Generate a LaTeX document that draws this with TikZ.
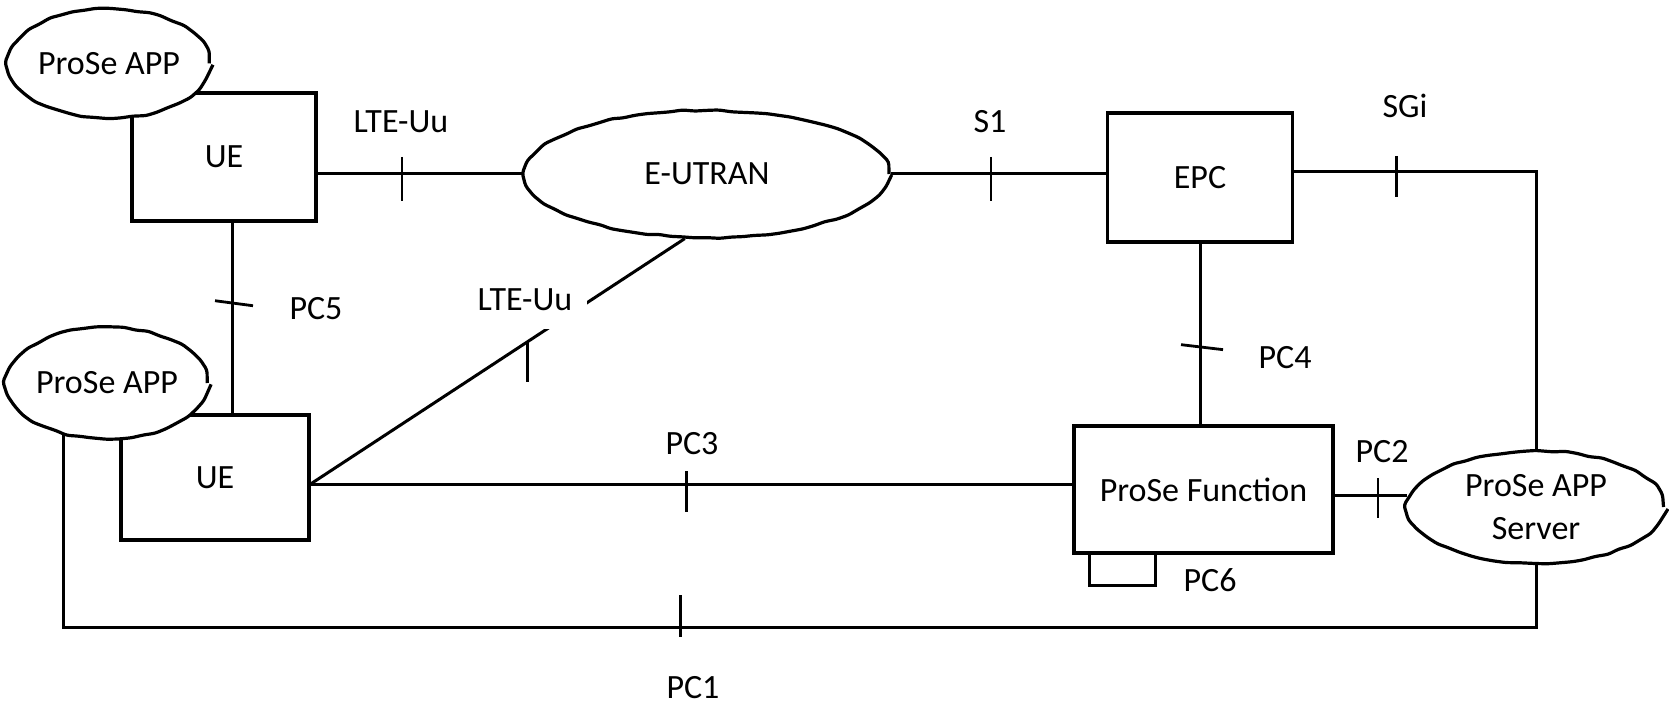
\documentclass[tikz,border=0pt]{standalone}
\usepackage{fontspec}
\setmainfont{Carlito}
\usetikzlibrary{shapes.geometric,decorations.pathmorphing,calc}
\begin{document}
\begin{tikzpicture}[x=0.5pt,y=-0.5pt,
  every node/.style={font=\fontsize{17pt}{21.5pt}\selectfont},
  box/.style={draw,line width=1.6pt,fill=white,inner sep=0pt},
  cloudn/.style={ellipse,draw,line width=1.6pt,fill=white,inner sep=0pt,align=center,
    decorate,decoration={random steps,segment length=6pt,amplitude=0.5pt},rounded corners=1.5pt},
  link/.style={line width=1.5pt},
  tickl/.style={line width=1.4pt},
  lbl/.style={inner sep=0pt}]
\pgfmathsetseed{5}
\fill[white] (0,0) rectangle (1669,705);
\useasboundingbox (0,0) rectangle (1669,705);

% boxes
\node[box,minimum width=92pt,minimum height=64pt] (UE1) at (224,157) {UE};
\node[box,minimum width=94pt,minimum height=62.5pt] (UE2) at (215,477.5) {UE};
\node[box,minimum width=92.5pt,minimum height=64.5pt] (EPC) at (1200,177.5) {EPC};
\node[box,minimum width=129.5pt,minimum height=63.5pt] (PF) at (1203.5,489.5) {ProSe Function};

% clouds
\node[cloudn,minimum width=91pt,minimum height=54.5pt] (app1) at (109,63.5) {ProSe APP};
\node[cloudn,minimum width=94.5pt,minimum height=55.5pt] (app2) at (107,383) {ProSe APP};
\node[cloudn,minimum width=182pt,minimum height=63.5pt] (eutran) at (707,174) {E-UTRAN};
\node[cloudn,minimum width=127.5pt,minimum height=56pt] (server) at (1536,507) {ProSe APP\\Server};

% helper coordinates
\coordinate (sg) at ($(EPC.east)+(0,-5.5)$);
\coordinate (p5a) at ($(UE1.south)+(8,0)$);
\coordinate (u2e) at ($(UE2.east)+(0,6.5)$);
\coordinate (pf2) at ($(PF.east)+(0,5.5)$);
\coordinate (pc1y) at (0,627);

% connectors
\draw[link] (UE1.east |- eutran.west) -- coordinate[pos=0.41] (tk1) (eutran.west);
\draw[link] (eutran.east) -- coordinate[pos=0.466] (tk2) (EPC.west |- eutran.east);
\draw[link] (sg) -- coordinate[pos=0.424] (tk3) (sg -| server.north) -- (server.north);
\draw[link] (EPC.south) -- coordinate[pos=0.57] (tk4) (EPC.south |- PF.north);
\draw[link] (p5a) -- coordinate[pos=0.42] (tk5) (p5a |- UE2.north);
\draw[link] (u2e) -- coordinate[pos=0.58] (tk6) (eutran.251);
\draw[link] (u2e) -- coordinate[pos=0.493] (tk7) (u2e -| PF.west);
\draw[link] (pf2) -- coordinate[pos=0.6] (tk8) (pf2 -| server.west);
\draw[link] ($(PF.south west)+(17,0)$) -- ++(0,31) -| ($(PF.south west)+(83,0)$);
\draw[link] (app2.230) -- (app2.230 |- pc1y) -- coordinate[pos=0.419] (tk10) (server.south |- pc1y) -- (server.south);

% ticks
\draw[tickl] ($(tk1)+(0,-17)$) -- ($(tk1)+(0,27)$);
\draw[tickl] ($(tk2)+(0,-17)$) -- ($(tk2)+(0,27)$);
\draw[tickl] ($(tk3)+(0,-16)$) -- ($(tk3)+(0,25)$);
\draw[tickl] ($(tk4)+(-19,-2)$) -- ($(tk4)+(23,3)$);
\draw[tickl] ($(tk5)+(-17,-2)$) -- ($(tk5)+(21,3)$);
\draw[tickl] ($(tk7)+(0,-13)$) -- ($(tk7)+(0,28)$);
\draw[tickl] ($(tk8)+(0,-17)$) -- ($(tk8)+(0,23)$);
\draw[tickl] ($(tk10)+(0,-32)$) -- ($(tk10)+(0,10)$);

% labels
\node[lbl] (lte1) at (401,122) {LTE-Uu};
\node[lbl] (s1) at (990,122) {S1};
\node[lbl] (sgi) at (1405,106) {SGi};
\node[lbl] (pc5) at (316,309) {PC5};
\node[lbl] (pc4) at (1285,358) {PC4};
\node[lbl] (pc3) at (692,444) {PC3};
\node[lbl] (pc2) at (1382,452) {PC2};
\node[lbl] (pc6) at (1210,580) {PC6};
\node[lbl] (pc1) at (693,688) {PC1};
\node[fill=white,inner xsep=7.5pt,inner ysep=9pt] (lte2) at (525,300) {LTE-Uu};
\draw[tickl] (tk6) -- ++(0,40);
\end{tikzpicture}
\end{document}
